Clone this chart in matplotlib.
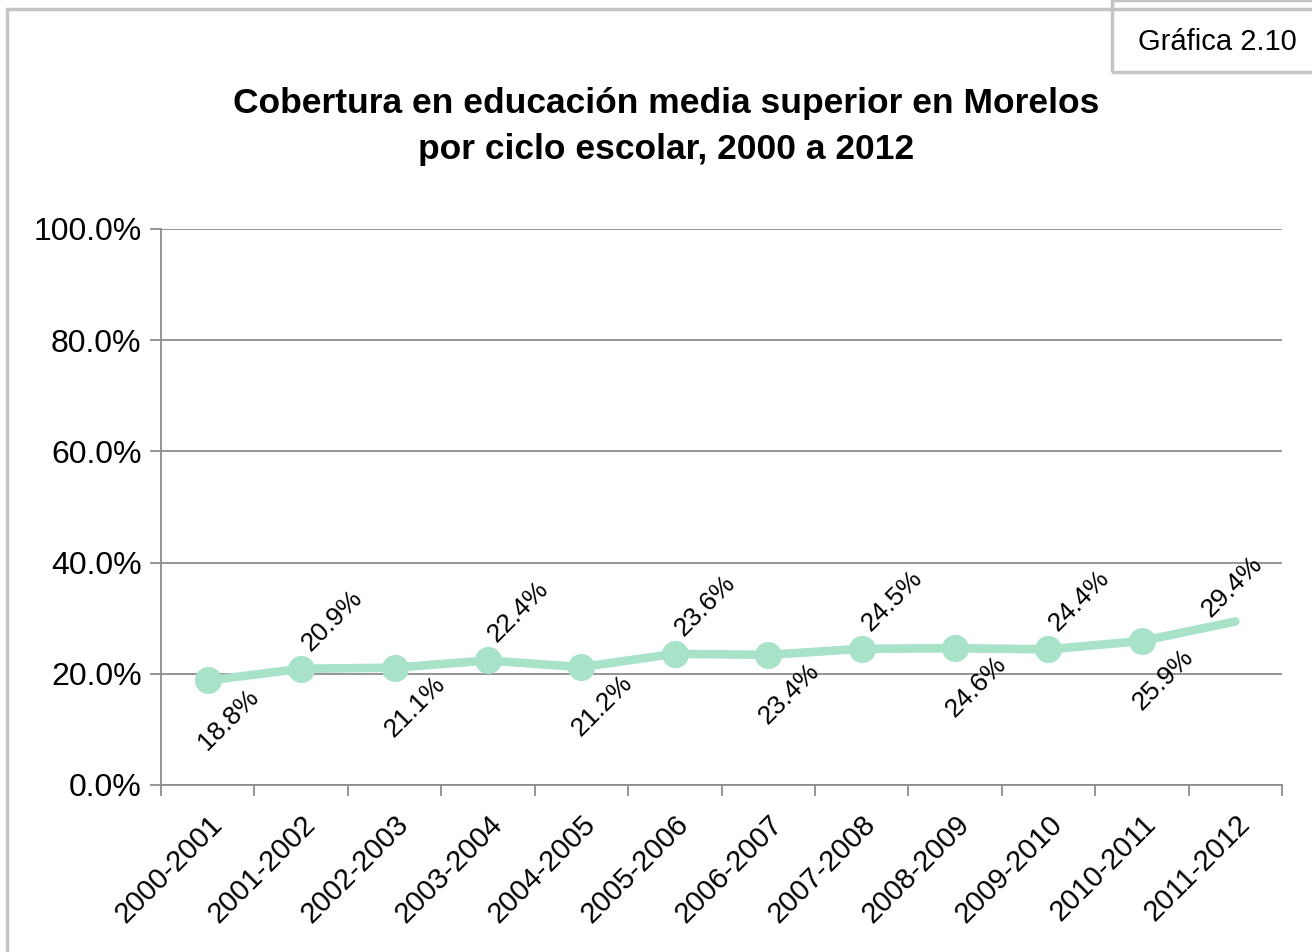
import matplotlib
matplotlib.use("Agg")
import matplotlib.pyplot as plt
from matplotlib.patches import Rectangle
from matplotlib.ticker import FixedLocator

ciclos = ["2000-2001", "2001-2002", "2002-2003", "2003-2004", "2004-2005",
          "2005-2006", "2006-2007", "2007-2008", "2008-2009", "2009-2010",
          "2010-2011", "2011-2012"]
cobertura = [18.8, 20.9, 21.1, 22.4, 21.2, 23.6, 23.4, 24.5, 24.6, 24.4, 25.9, 29.4]
etiquetas = ["18.8%", "20.9%", "21.1%", "22.4%", "21.2%", "23.6%",
             "23.4%", "24.5%", "24.6%", "24.4%", "25.9%", "29.4%"]
y_ticks = [0, 20, 40, 60, 80, 100]

plt.rcParams['font.family'] = ['Liberation Sans Narrow', 'Liberation Sans', 'DejaVu Sans']

linea = "#a8e2c9"
gris = "#8c8c8c"

fig = plt.figure(figsize=(13.12, 9.52), dpi=100)

# outer frame and "Gráfica" box
fig.patches.append(Rectangle((7 / 1312, -0.05), 1.1, 1 - 9 / 952 + 0.05,
                             transform=fig.transFigure, fill=False,
                             edgecolor="#c4c4c4", linewidth=2.5))
fig.patches.append(Rectangle((1112 / 1312, 1 - 72 / 952), 0.2, 72 / 952,
                             transform=fig.transFigure, fill=False,
                             edgecolor="#c4c4c4", linewidth=2.5))
fig.text(1217 / 1312, 1 - 42 / 952, "Gráfica 2.10", fontsize=21,
         ha="center", va="center")

fig.text(666 / 1312, 1 - 127 / 952,
         "Cobertura en educación media superior en Morelos\npor ciclo escolar, 2000 a 2012",
         fontsize=25.5, fontweight="bold", ha="center", va="center", linespacing=1.5)

ax = fig.add_axes([161 / 1312, 1 - 785 / 952, (1282 - 161) / 1312, (785 - 229) / 952])
x = list(range(len(ciclos)))

ax.plot(x, cobertura, color=linea, linewidth=6.2, solid_capstyle="round", zorder=3)
ax.plot(x[:-1], cobertura[:-1], linestyle="none", marker="o", markersize=18.5,
        color=linea, zorder=4)

for i, (v, t) in enumerate(zip(cobertura, etiquetas)):
    if i == len(cobertura) - 1:
        off = (-2, 25)
    elif i % 2 == 0:
        off = (15, -28)
    else:
        off = (22, 35)
    ax.annotate(t, (i, v), xytext=off, textcoords="offset points",
                rotation=45, ha="center", va="center", fontsize=19,
                rotation_mode="anchor")

ax.set_xlim(-0.5, len(ciclos) - 0.5)
ax.set_ylim(0, 100)
ax.set_yticks(y_ticks)
ax.set_yticklabels([f"{v:.1f}%" for v in y_ticks], fontsize=23)
ax.yaxis.grid(True, color=gris, linewidth=1.3)
ax.set_axisbelow(True)

ax.set_xticks(x)
ax.set_xticklabels(ciclos, rotation=45, ha="right", rotation_mode="anchor", fontsize=21)
ax.xaxis.set_minor_locator(FixedLocator([i - 0.5 for i in range(len(ciclos) + 1)]))
ax.tick_params(axis="x", which="major", length=0, pad=18)
ax.tick_params(axis="x", which="minor", length=8, color=gris, width=1.3)
ax.tick_params(axis="y", length=8, color=gris, width=1.3, pad=6)

for s in ["top", "right"]:
    ax.spines[s].set_visible(False)
for s in ["left", "bottom"]:
    ax.spines[s].set_color(gris)
    ax.spines[s].set_linewidth(1.3)

fig.savefig("out.png", dpi=100)
